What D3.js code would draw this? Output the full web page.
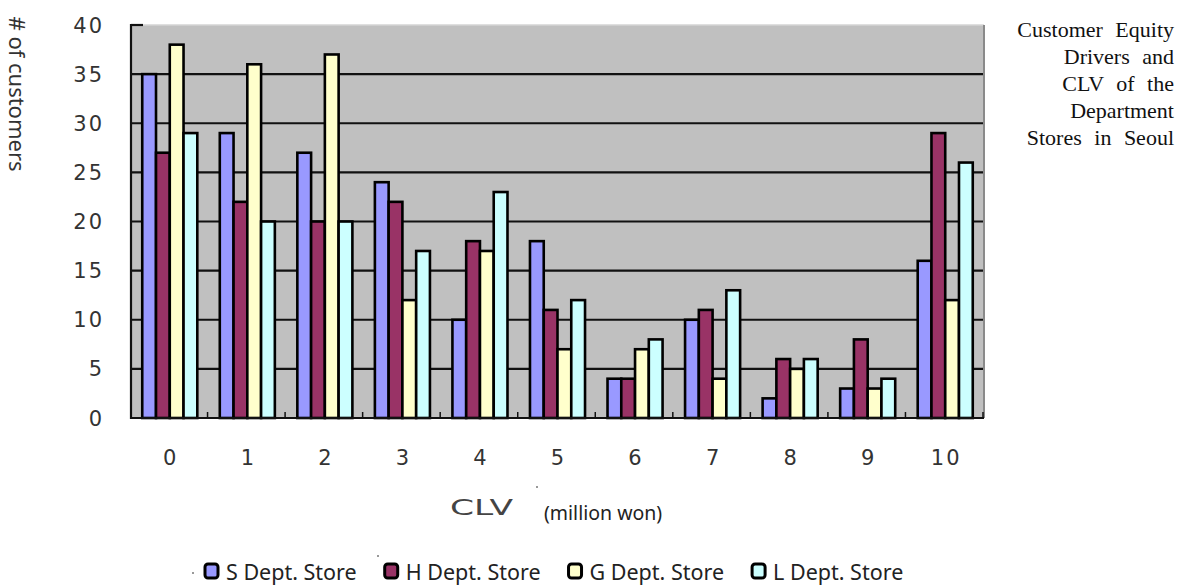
<!DOCTYPE html>
<html>
<head>
<meta charset="utf-8">
<script src="https://cdn.jsdelivr.net/npm/d3@7"></script>
<style>
  html, body { margin: 0; padding: 0; background: #ffffff; }
  svg { display: block; }
</style>
</head>
<body>
<svg id="chart" width="1191" height="587"></svg>
<script>
// CLV buckets (million won) and number of customers per store
const categories = ["0", "1", "2", "3", "4", "5", "6", "7", "8", "9", "10"];
const seriesNames = ["S Dept. Store", "H Dept. Store", "G Dept. Store", "L Dept. Store"];
const sStore = [35, 29, 27, 24, 10, 18, 4, 10, 2, 3, 16];
const hStore = [27, 22, 20, 22, 18, 11, 4, 11, 6, 8, 29];
const gStore = [38, 36, 37, 12, 17, 7, 7, 4, 5, 3, 12];
const lStore = [29, 20, 20, 17, 23, 12, 8, 13, 6, 4, 26];
const yTicks = [0, 5, 10, 15, 20, 25, 30, 35, 40];
const titleLines = ["Customer Equity", "Drivers and", "CLV of the", "Department", "Stores in Seoul"];

const seriesValues = [sStore, hStore, gStore, lStore];
const seriesColors = ["#9999ff", "#993366", "#ffffcc", "#ccffff"];

const svg = d3.select("#chart");

const plot = { left: 131, right: 984, top: 25, bottom: 418 };

const x0 = d3.scaleBand()
  .domain(categories)
  .range([plot.left, plot.right])
  .paddingInner(0.29)
  .paddingOuter(0.145);

const x1 = d3.scaleBand()
  .domain(seriesNames)
  .range([0, x0.bandwidth()])
  .padding(0);

const y = d3.scaleLinear()
  .domain([0, 40])
  .range([plot.bottom, plot.top]);

// plot background
svg.append("rect")
  .attr("x", plot.left).attr("y", plot.top)
  .attr("width", plot.right - plot.left).attr("height", plot.bottom - plot.top)
  .attr("fill", "#c0c0c0");

// top and right frame
svg.append("line")
  .attr("x1", plot.left).attr("x2", plot.right)
  .attr("y1", plot.top).attr("y2", plot.top)
  .attr("stroke", "#d4d4d4").attr("stroke-width", 1.5);
svg.append("line")
  .attr("x1", plot.right).attr("x2", plot.right)
  .attr("y1", plot.top).attr("y2", plot.bottom)
  .attr("stroke", "#8a8a8a").attr("stroke-width", 2);

// horizontal gridlines
svg.append("g")
  .selectAll("line")
  .data(yTicks.filter(d => d > 0 && d < 40))
  .join("line")
  .attr("x1", plot.left).attr("x2", plot.right - 1)
  .attr("y1", d => y(d)).attr("y2", d => y(d))
  .attr("stroke", "#111").attr("stroke-width", 2.2);

// short tick at the top of the value axis
svg.append("line")
  .attr("x1", plot.left).attr("x2", plot.left + 12)
  .attr("y1", y(40)).attr("y2", y(40))
  .attr("stroke", "#111").attr("stroke-width", 2.2);

// bars
const groups = svg.append("g")
  .selectAll("g")
  .data(categories)
  .join("g")
  .attr("transform", d => `translate(${x0(d)},0)`);

groups.selectAll("rect")
  .data((c, i) => seriesNames.map((s, k) => ({ series: s, k, value: seriesValues[k][i] })))
  .join("rect")
  .attr("x", d => x1(d.series))
  .attr("y", d => y(d.value))
  .attr("width", x1.bandwidth())
  .attr("height", d => y(0) - y(d.value))
  .attr("fill", d => seriesColors[d.k])
  .attr("stroke", "#000")
  .attr("stroke-width", 2.6);

// axes lines
svg.append("line")
  .attr("x1", plot.left).attr("x2", plot.left)
  .attr("y1", plot.top - 1).attr("y2", plot.bottom + 1)
  .attr("stroke", "#111").attr("stroke-width", 2.2);
svg.append("line")
  .attr("x1", plot.left - 1).attr("x2", plot.right)
  .attr("y1", plot.bottom).attr("y2", plot.bottom)
  .attr("stroke", "#111").attr("stroke-width", 2.2);

// category boundary ticks along the bottom axis
const step = x0.step();
svg.append("g")
  .selectAll("line")
  .data(d3.range(1, categories.length + 1))
  .join("line")
  .attr("x1", i => plot.left + step * i - 1).attr("x2", i => plot.left + step * i - 1)
  .attr("y1", plot.bottom).attr("y2", plot.bottom - 6)
  .attr("stroke", "#111").attr("stroke-width", 1.5);

// value axis labels
svg.append("g")
  .selectAll("text")
  .data(yTicks)
  .join("text")
  .attr("x", 104)
  .attr("y", d => y(d))
  .attr("dy", "0.36em")
  .attr("text-anchor", "end")
  .attr("font-family", "DejaVu Sans")
  .attr("font-size", 21)
  .attr("letter-spacing", 2)
  .attr("fill", "#333")
  .text(d => d);

// category labels
svg.append("g")
  .selectAll("text")
  .data(categories)
  .join("text")
  .attr("x", d => x0(d) + x0.bandwidth() / 2 + 1)
  .attr("y", 465)
  .attr("text-anchor", "middle")
  .attr("font-family", "DejaVu Sans")
  .attr("font-size", 21)
  .attr("letter-spacing", 2)
  .attr("fill", "#333")
  .text(d => d);

// axis titles
svg.append("text")
  .attr("x", 450).attr("y", 515)
  .attr("font-family", "DejaVu Sans")
  .attr("font-size", 21)
  .attr("textLength", 63)
  .attr("lengthAdjust", "spacingAndGlyphs")
  .attr("fill", "#444")
  .text("CLV");
svg.append("text")
  .attr("x", 544).attr("y", 520)
  .attr("font-family", "Noto Sans")
  .attr("font-size", 19.5)
  .attr("fill", "#222")
  .text("(million won)");
svg.append("circle").attr("cx", 537).attr("cy", 487).attr("r", 1).attr("fill", "#777");

svg.append("text")
  .attr("transform", "translate(9,94) rotate(90)")
  .attr("text-anchor", "middle")
  .attr("font-family", "Noto Sans")
  .attr("font-size", 22)
  .attr("fill", "#333")
  .text("# of customers");

// title block
svg.append("g")
  .selectAll("text")
  .data(titleLines)
  .join("text")
  .attr("x", 1174)
  .attr("y", (d, i) => 37 + i * 27)
  .attr("text-anchor", "end")
  .attr("font-family", "Liberation Serif")
  .attr("font-size", 22)
  .attr("word-spacing", 7)
  .attr("fill", "#111")
  .text(d => d);

// legend
const legend = svg.append("g");
let lx = 205;
seriesNames.forEach((name, k) => {
  legend.append("rect")
    .attr("x", lx).attr("y", 564)
    .attr("width", 13).attr("height", 14)
    .attr("rx", 3)
    .attr("fill", seriesColors[k])
    .attr("stroke", "#000")
    .attr("stroke-width", 3);
  const t = legend.append("text")
    .attr("x", lx + 21).attr("y", 580)
    .attr("font-family", "Noto Sans")
    .attr("font-size", 21.5)
    .attr("fill", "#222")
    .text(name);
  lx += 21 + t.node().getComputedTextLength() + 28;
});
svg.append("circle").attr("cx", 193).attr("cy", 573).attr("r", 1).attr("fill", "#777");
svg.append("circle").attr("cx", 378).attr("cy", 556).attr("r", 1).attr("fill", "#777");
</script>
</body>
</html>
